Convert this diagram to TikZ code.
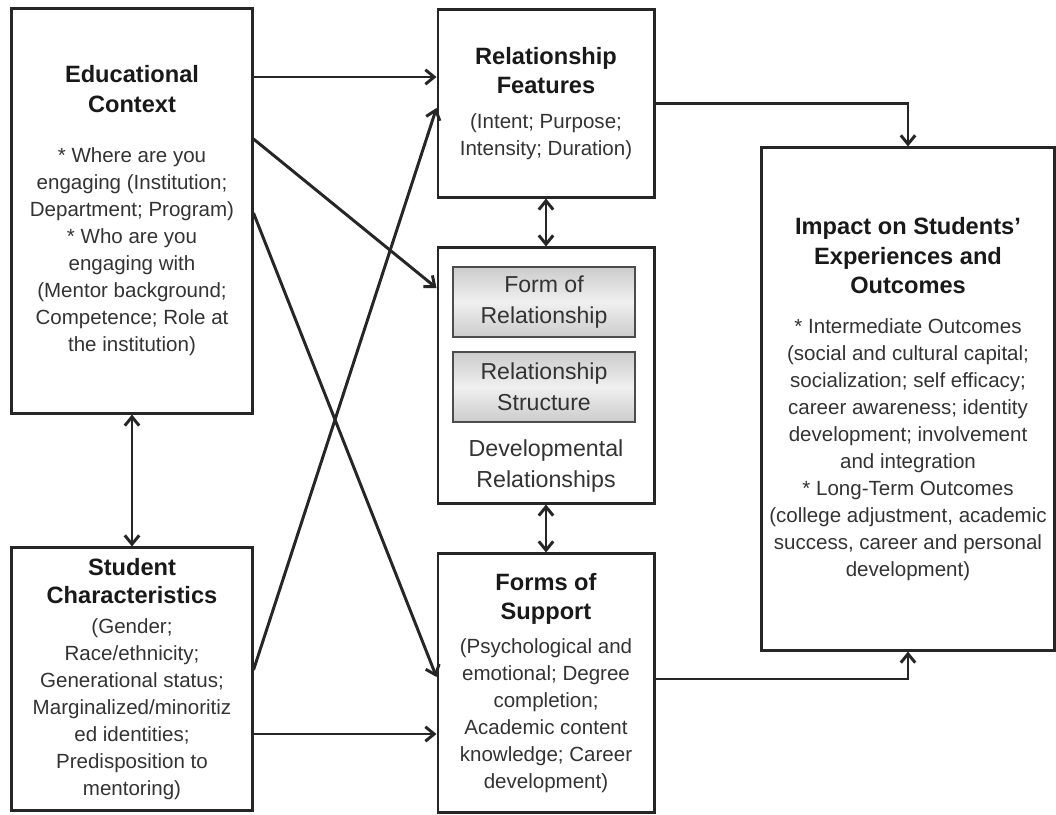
\documentclass[tikz,border=0pt]{standalone}
\usepackage{fontspec}
\setmainfont{Liberation Sans}
\usepackage{tikz}
\usetikzlibrary{arrows.meta}

\newcommand{\hd}[1]{{\fontsize{16.8}{20.5}\selectfont\bfseries\color{black!90}#1}}

\tikzset{
	box/.style={draw=black!85, line width=2.1pt, fill=white, inner sep=0pt, align=center,
		text=black!80, font=\fontsize{14.6}{19.2}\selectfont},
	inbox/.style={draw=black!70, line width=1.4pt, top color=gray!40, bottom color=gray!40,
		middle color=gray!12, inner sep=0pt, align=center, text=black!80,
		minimum width=4.55cm, minimum height=1.75cm, font=\fontsize{16.4}{22}\selectfont},
	arr/.style={-{Straight Barb[length=2.2mm,width=3.6mm]}, line width=2.1pt, draw=black!85},
	dbl/.style={{Straight Barb[length=2.2mm,width=3.6mm]}-{Straight Barb[length=2.2mm,width=3.6mm]}, line width=2.1pt, draw=black!85}
}

\begin{document}
\begin{tikzpicture}[x=0.025cm, y=-0.025cm]
	\useasboundingbox[fill=white] (0,0) rectangle (1056,814);
	
	%boxes
	\node[box, minimum width=6cm, minimum height=10.1cm] (ed) at (132,211)
		{\hd{Educational}\\[1.5pt]\hd{Context}\\[17pt]* Where are you\\engaging (Institution;\\Department; Program)\\* Who are you\\engaging with\\(Mentor background;\\Competence; Role at\\the institution)};
	\node[box, minimum width=6cm, minimum height=6.55cm] (sc) at (132,679)
		{\hd{Student}\\[1pt]\hd{Characteristics}\\[2pt](Gender;\\Race/ethnicity;\\Generational status;\\Marginalized/minoritiz\\ed identities;\\Predisposition to\\mentoring)};
	\node[box, minimum width=5.4cm, minimum height=4.675cm] (rf) at (546,103.5)
		{\hd{Relationship}\\[1.5pt]\hd{Features}\\[6pt](Intent; Purpose;\\Intensity; Duration)};
	\node[box, minimum width=5.4cm, minimum height=6.375cm] (dr) at (546,375.5) {};
	\node[box, minimum width=5.4cm, minimum height=6.45cm] (fs) at (546,683)
		{\hd{Forms of}\\[1.5pt]\hd{Support}\\[5pt](Psychological and\\emotional; Degree\\completion;\\Academic content\\knowledge; Career\\development)};
	\node[box, minimum width=7.3cm, minimum height=12.55cm] (im) at (908,399)
		{\hd{Impact on Students'}\\[2pt]\hd{Experiences and}\\[2pt]\hd{Outcomes}\\[9pt]* Intermediate Outcomes\\(social and cultural capital;\\socialization; self efficacy;\\career awareness; identity\\development; involvement\\and integration\\* Long-Term Outcomes\\(college adjustment, academic\\success, career and personal\\development)};
	
	%inner boxes
	\node[inbox] (fr) at (544,302) {Form of\\Relationship};
	\node[inbox] (rs) at (544,387) {Relationship\\Structure};
	\node[align=center, text=black!80, font=\fontsize{16.5}{21.5}\selectfont] (drl) at (546,466) {Developmental\\Relationships};
	
	%arrows
	\draw[arr] (ed.east |- 0,77) -- (rf.west |- 0,77);
	\draw[arr] (ed.east |- 0,139) -- (dr.west |- 0,288);
	\draw[arr] (ed.east |- 0,213) -- (fs.west |- 0,677);
	\draw[arr] (sc.east |- 0,670) -- (rf.west |- 0,108);
	\draw[arr] (sc.east |- 0,734) -- (fs.west |- 0,734);
	\draw[arr] (rf.east) -| (im.north);
	\draw[arr] (fs.east |- 0,679) -| (im.south);
	
	%double arrows
	\draw[dbl] (ed.south) -- (sc.north);
	\draw[dbl] (rf.south) -- (dr.north);
	\draw[dbl] (dr.south) -- (fs.north);
\end{tikzpicture}
\end{document}
